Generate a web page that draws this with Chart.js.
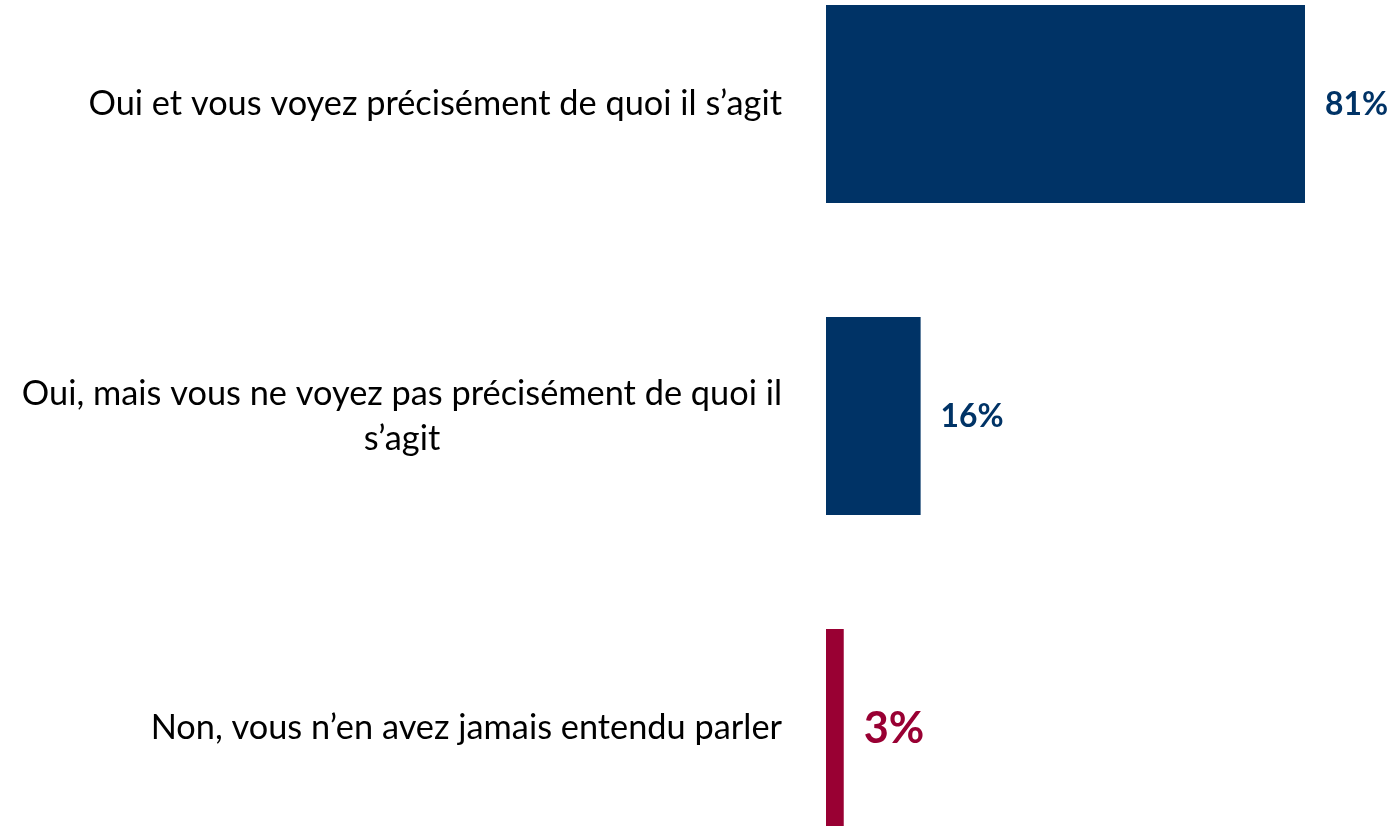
<!DOCTYPE html>
<html><head><meta charset="utf-8">
<script src="https://cdn.jsdelivr.net/npm/chart.js@4"></script>
<style>
html,body{margin:0;padding:0;background:#fff;overflow:hidden;width:1392px;height:826px}
#wrap{position:absolute;left:0;top:-52px;width:1392px;height:936px}
</style></head><body>
<div id="wrap"><canvas id="c"></canvas></div>
<script>
const categories = [
  ["Oui et vous voyez précisément de quoi il s’agit"],
  ["Oui, mais vous ne voyez pas précisément de quoi il", "s’agit"],
  ["Non, vous n’en avez jamais entendu parler"]
];
const values = [81, 16, 3];
const valueLabels = ["81%", "16%", "3%"];

const barColors = ["#003366", "#003366", "#990033"];
const FONT = "Lato, 'Open Sans', sans-serif";

const labelPlugin = {
  id: 'labels',
  afterDatasetsDraw(chart) {
    const ctx = chart.ctx;
    const yScale = chart.scales.y;
    const meta = chart.getDatasetMeta(0);
    ctx.save();
    // category label font fitted to reference width
    ctx.font = "30px " + FONT;
    const w0 = ctx.measureText(categories[0][0]).width;
    const catSize = 30 * 694 / w0;
    ctx.font = catSize.toFixed(2) + "px " + FONT;
    ctx.fillStyle = "#000";
    ctx.textBaseline = "middle";
    ctx.textAlign = "center";
    const rightX = 782;
    const lineH = 45;
    categories.forEach((lines, i) => {
      const yc = yScale.getPixelForValue(i);
      const blockW = Math.max(...lines.map(l => ctx.measureText(l).width));
      const cx = rightX - blockW / 2;
      lines.forEach((l, j) => {
        ctx.fillText(l, cx, yc + (j - (lines.length - 1) / 2) * lineH);
      });
    });
    // value labels
    ctx.font = "bold 30px " + FONT;
    const vw = ctx.measureText(valueLabels[0]).width;
    const baseV = 30 * 63 / vw;
    const scales = [1, 1, 1.36];
    ctx.textAlign = "left";
    meta.data.forEach((bar, i) => {
      ctx.font = "bold " + (baseV * scales[i]).toFixed(2) + "px " + FONT;
      ctx.fillStyle = barColors[i];
      ctx.fillText(valueLabels[i], bar.x + 20, bar.y + 1);
    });
    ctx.restore();
  }
};

new Chart(document.getElementById('c'), {
  type: 'bar',
  data: {
    labels: categories,
    datasets: [{
      data: values,
      backgroundColor: barColors,
      borderWidth: 0,
      categoryPercentage: 1,
      barPercentage: 0.635
    }]
  },
  options: {
    indexAxis: 'y',
    responsive: true,
    maintainAspectRatio: false,
    animation: false,
    layout: { padding: { left: 826, right: 87, top: 0, bottom: 0 } },
    plugins: { legend: { display: false }, tooltip: { enabled: false } },
    scales: {
      x: { display: false, min: 0, max: 81 },
      y: { display: false }
    }
  },
  plugins: [labelPlugin]
});
</script>
</body></html>
